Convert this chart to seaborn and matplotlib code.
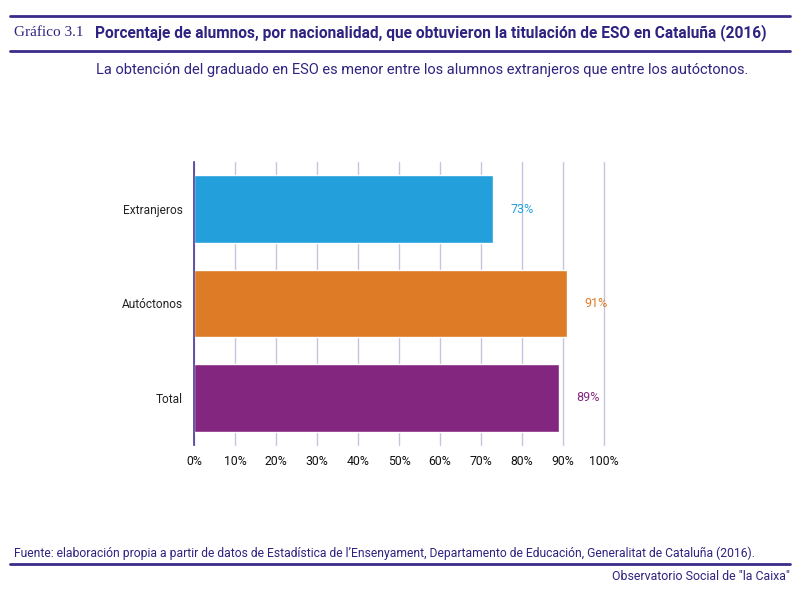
import matplotlib
matplotlib.use("Agg")
import matplotlib.pyplot as plt
import seaborn as sns
import pandas as pd
from matplotlib.lines import Line2D

categories = ["Extranjeros", "Autóctonos", "Total"]
values = [73, 91, 89]
colors = ["#23A0DB", "#DE7B26", "#83267F"]
xticks = [0, 10, 20, 30, 40, 50, 60, 70, 80, 90, 100]
xticklabels = ["0%", "10%", "20%", "30%", "40%", "50%", "60%", "70%", "80%", "90%", "100%"]

NAVY = "#2E2380"

sns.set_theme(style="white")
plt.rcParams["font.family"] = ["Roboto", "DejaVu Sans"]

df = pd.DataFrame({"cat": categories, "val": values})

fig = plt.figure(figsize=(8, 5.91), dpi=100)
ax = fig.add_axes([194/800, 1-445/591, 410/800, 283/591])

sns.barplot(data=df, y="cat", x="val", hue="cat", palette=colors, orient="h",
            width=0.72, ax=ax, legend=False, saturation=1, zorder=2)

ax.set_xlim(0, 100)
ax.set_ylim(2.5, -0.5)
ax.set_xticks(xticks)
ax.set_xticklabels(xticklabels)
ax.set_xlabel("")
ax.set_ylabel("")
ax.grid(axis="x", color="#C8C3DE", linewidth=1, zorder=0)
for gl in ax.get_xgridlines():
    gl.set_clip_on(False)
ax.set_axisbelow(True)
for s in ["top", "right", "bottom"]:
    ax.spines[s].set_visible(False)
ax.spines["left"].set_color("#4B3A9A")
ax.spines["left"].set_linewidth(1.2)
ax.tick_params(axis="x", length=0, pad=7, labelsize=8.8, labelcolor="#111111")
ax.tick_params(axis="y", length=0, pad=8, labelsize=8.6, labelcolor="#222222")

for i, (v, c) in enumerate(zip(values, colors)):
    ax.text(v + 4.3, i, f"{v}%", color=c, fontsize=9, va="center", ha="left")

# header lines and texts
fig.add_artist(Line2D([10/800, 790/800], [1-16/591, 1-16/591], color="#3B2A8A", linewidth=2))
fig.add_artist(Line2D([10/800, 790/800], [1-51/591, 1-51/591], color="#3B2A8A", linewidth=2))
fig.add_artist(Line2D([10/800, 790/800], [1-564/591, 1-564/591], color="#3B2A8A", linewidth=2))

fig.text(14/800, 1-33/591, "Gráfico 3.1", family=["Liberation Serif", "DejaVu Serif"],
         fontsize=11, color=NAVY, va="center", ha="left")
fig.text(95/800, 1-33/591, "Porcentaje de alumnos, por nacionalidad, que obtuvieron la titulación de ESO en Cataluña (2016)",
         fontsize=11.2, fontweight="bold", color=NAVY, va="center", ha="left")
fig.text(96/800, 1-70/591, "La obtención del graduado en ESO es menor entre los alumnos extranjeros que entre los autóctonos.",
         fontsize=10.5, color=NAVY, va="center", ha="left")
fig.text(14/800, 1-553/591, "Fuente: elaboración propia a partir de datos de Estadística de l’Ensenyament, Departamento de Educación, Generalitat de Cataluña (2016).",
         fontsize=8.7, color=NAVY, va="center", ha="left")
fig.text(790/800, 1-577/591, "Observatorio Social de \"la Caixa\"",
         fontsize=8.9, color=NAVY, va="center", ha="right")

fig.savefig("out.png", dpi=100)
